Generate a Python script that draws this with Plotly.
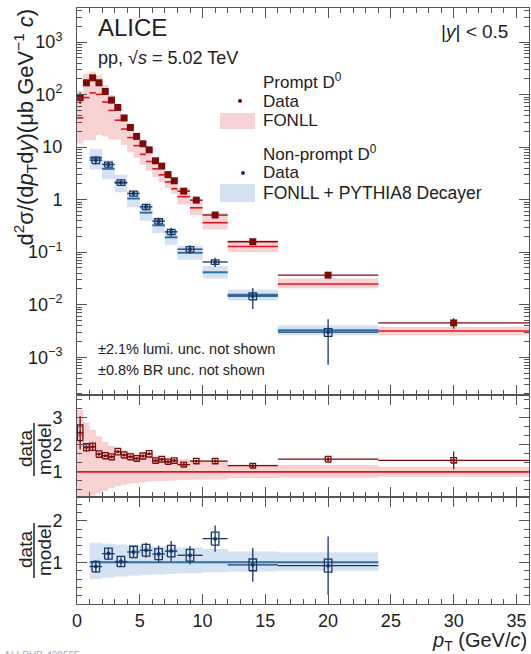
import plotly.graph_objects as go

# ---------------- data ----------------
# Prompt D0
pr_lo = [0, 0.5, 1, 1.5, 2, 2.5, 3, 3.5, 4, 4.5, 5, 5.5, 6, 6.5, 7, 7.5, 8, 9, 10, 12, 16, 24]
pr_hi = [0.5, 1, 1.5, 2, 2.5, 3, 3.5, 4, 4.5, 5, 5.5, 6, 6.5, 7, 7.5, 8, 9, 10, 12, 16, 24, 36]
pr_data = [88, 168, 209, 168, 115, 78.5, 57, 36, 23.7, 16, 11.6, 8.9, 5.5, 4.36, 3.0, 2.29,
           1.45, 0.98, 0.51, 0.158, 0.0365, 0.0045]
pr_stat_rel = [0.25, 0.08, 0.08, 0.03, 0.03, 0.03, 0.03, 0.03, 0.03, 0.03, 0.03, 0.03, 0.03,
               0.03, 0.03, 0.03, 0.03, 0.03, 0.04, 0.04, 0.05, 0.23]
pr_sys_rel = [0.12, 0.07, 0.07, 0.07, 0.07, 0.07, 0.07, 0.07, 0.07, 0.07, 0.07, 0.07, 0.07,
              0.07, 0.07, 0.07, 0.07, 0.07, 0.07, 0.07, 0.07, 0.07]
pr_fonll = [36, 88, 108, 101, 72, 50, 32.6, 22.1, 15.2, 10.7, 7.3, 5.33, 3.87, 2.97, 2.17,
            1.61, 1.14, 0.70, 0.364, 0.128, 0.0248, 0.00315]
pr_fonll_up = [119, 249, 276, 233, 153, 98.5, 61.3, 39.8, 26.4, 18.1, 12.0, 8.6, 6.1, 4.6,
               3.32, 2.43, 1.69, 1.01, 0.55, 0.17, 0.0316, 0.0038]
pr_fonll_dn = [11.8, 13.6, 13.6, 16.9, 16, 14, 14, 11, 8, 6.3, 4.6, 3.6, 2.7, 2.15, 1.65,
               1.3, 0.81, 0.51, 0.27, 0.10, 0.0205, 0.0026]
pr_ratio = [2.45, 1.91, 1.93, 1.66, 1.60, 1.56, 1.75, 1.63, 1.56, 1.50, 1.59, 1.67, 1.42,
            1.47, 1.38, 1.42, 1.27, 1.40, 1.40, 1.23, 1.47, 1.43]
pr_rband_up = [3.3, 2.83, 2.56, 2.31, 2.12, 1.97, 1.88, 1.80, 1.74, 1.69, 1.65, 1.61, 1.58,
               1.55, 1.53, 1.51, 1.48, 1.44, 1.40, 1.27, 1.26, 1.19]
pr_rband_dn = [0.05, 0.1, 0.12, 0.2, 0.3, 0.4, 0.47, 0.52, 0.56, 0.59, 0.62, 0.64, 0.65,
               0.66, 0.67, 0.68, 0.70, 0.71, 0.72, 0.77, 0.78, 0.82]

# Non-prompt D0
np_lo = [1, 2, 3, 4, 5, 6, 7, 8, 10, 12, 16]
np_hi = [2, 3, 4, 5, 6, 7, 8, 10, 12, 16, 24]
np_data = [5.65, 4.68, 2.13, 1.31, 0.73, 0.39, 0.244, 0.114, 0.065, 0.0145, 0.0030]
np_stat_rel = [0.17, 0.12, 0.10, 0.11, 0.14, 0.17, 0.19, 0.19, 0.20, 0.43, 0.76]
np_sys_rel = [0.14, 0.11, 0.12, 0.11, 0.11, 0.11, 0.11, 0.12, 0.10, 0.15, 0.17]
np_fonll = [6.28, 3.87, 2.09, 1.05, 0.566, 0.325, 0.192, 0.0974, 0.0414, 0.0154, 0.00326]
np_ratio = [0.90, 1.21, 1.02, 1.25, 1.29, 1.20, 1.27, 1.17, 1.57, 0.94, 0.92]
np_rband_up = [1.47, 1.45, 1.43, 1.41, 1.40, 1.39, 1.38, 1.36, 1.32, 1.26, 1.24]
np_rband_dn = [0.60, 0.63, 0.66, 0.68, 0.70, 0.71, 0.72, 0.74, 0.76, 0.78, 0.80]

x_ticks = [0, 5, 10, 15, 20, 25, 30, 35]
y_ticks = [1e-3, 1e-2, 1e-1, 1, 10, 1e2, 1e3]
y_ticktext = ["10<sup>−3</sup>", "10<sup>−2</sup>", "10<sup>−1</sup>", "1", "10",
              "10<sup>2</sup>", "10<sup>3</sup>"]
r1_ticks = [1, 2, 3]
r2_ticks = [1, 2]

# ---------------- style ----------------
FONT = "Liberation Sans, Arial, sans-serif"
C_PR_DATA = "#7a0c0c"
C_PR_LINE = "#e0141e"
C_PR_BAND = "#f8d2d2"
C_NP_DATA = "#1b3768"
C_NP_LINE = "#2f6fa8"
C_NP_BAND = "#d4e2f2"
AX = "#555555"

W, H = 531, 654
L, R, T, B = 77, 2, 8, 50
PW, PH = W - L - R, H - T - B


def X(px):
    return (px - L) / PW


def Y(py):
    return (H - B - py) / PH


def centers(lo, hi):
    return [(a + b) / 2 for a, b in zip(lo, hi)]


def halfw(lo, hi):
    return [(b - a) / 2 for a, b in zip(lo, hi)]


def band_poly(lo, hi, up, dn):
    xs, ys = [], []
    for a, b, u, d in zip(lo, hi, up, dn):
        xs += [a, b, b, a, a, None]
        ys += [d, d, u, u, d, None]
    return xs, ys


def seg_poly(lo, hi, vals):
    xs, ys = [], []
    for a, b, v in zip(lo, hi, vals):
        xs += [a, b, None]
        ys += [v, v, None]
    return xs, ys


def box_poly(xc, yc, hw, dy_up, dy_dn):
    xs, ys = [], []
    for x, y, u, d in zip(xc, yc, dy_up, dy_dn):
        xs += [x - hw, x + hw, x + hw, x - hw, x - hw, None]
        ys += [y - d, y - d, y + u, y + u, y - d, None]
    return xs, ys


fig = go.Figure()

pr_x = centers(pr_lo, pr_hi)
pr_w = halfw(pr_lo, pr_hi)
np_x = centers(np_lo, np_hi)
np_w = halfw(np_lo, np_hi)

# ---------------- top panel ----------------
bx, by = band_poly(pr_lo, pr_hi, pr_fonll_up, pr_fonll_dn)
fig.add_trace(go.Scatter(x=bx, y=by, fill="toself", fillcolor=C_PR_BAND, mode="lines",
                         line=dict(width=0), hoverinfo="skip", xaxis="x", yaxis="y"))
np_up_abs = [c * u for c, u in zip(np_fonll, np_rband_up)]
np_dn_abs = [c * d for c, d in zip(np_fonll, np_rband_dn)]
bx, by = band_poly(np_lo, np_hi, np_up_abs, np_dn_abs)
fig.add_trace(go.Scatter(x=bx, y=by, fill="toself", fillcolor=C_NP_BAND, mode="lines",
                         line=dict(width=0), hoverinfo="skip", xaxis="x", yaxis="y"))
sx, sy = seg_poly(pr_lo, pr_hi, pr_fonll)
fig.add_trace(go.Scatter(x=sx, y=sy, mode="lines", line=dict(color=C_PR_LINE, width=1.6),
                         xaxis="x", yaxis="y"))
sx, sy = seg_poly(np_lo, np_hi, np_fonll)
fig.add_trace(go.Scatter(x=sx, y=sy, mode="lines", line=dict(color=C_NP_LINE, width=2),
                         xaxis="x", yaxis="y"))

# non-prompt data (top)
np_sys_abs = [d * s for d, s in zip(np_data, np_sys_rel)]
bx, by = box_poly(np_x, np_data, 0.3, np_sys_abs, np_sys_abs)
fig.add_trace(go.Scatter(x=bx, y=by, mode="lines", line=dict(color=C_NP_DATA, width=1.3),
                         xaxis="x", yaxis="y"))
fig.add_trace(go.Scatter(
    x=np_x, y=np_data, mode="markers",
    marker=dict(symbol="circle", size=4, color=C_NP_DATA),
    error_x=dict(type="data", array=np_w, width=0, thickness=1.3, color=C_NP_DATA),
    error_y=dict(type="data", array=[d * s for d, s in zip(np_data, np_stat_rel)],
                 width=0, thickness=1.3, color=C_NP_DATA),
    xaxis="x", yaxis="y"))

# prompt data (top)
fig.add_trace(go.Scatter(
    x=pr_x, y=pr_data, mode="markers",
    marker=dict(symbol="square", size=7, color=C_PR_DATA),
    error_x=dict(type="data", array=pr_w, width=0, thickness=1.3, color=C_PR_DATA),
    error_y=dict(type="data", array=[d * s for d, s in zip(pr_data, pr_stat_rel)],
                 width=0, thickness=1.3, color=C_PR_DATA),
    xaxis="x", yaxis="y"))

# ---------------- middle panel (prompt ratio) ----------------
bx, by = band_poly(pr_lo, pr_hi, pr_rband_up, pr_rband_dn)
fig.add_trace(go.Scatter(x=bx, y=by, fill="toself", fillcolor=C_PR_BAND, mode="lines",
                         line=dict(width=0), hoverinfo="skip", xaxis="x2", yaxis="y2"))
fig.add_trace(go.Scatter(x=[pr_lo[0], pr_hi[-1]], y=[1, 1], mode="lines",
                         line=dict(color=C_PR_LINE, width=1.6), xaxis="x2", yaxis="y2"))
pr_rsys = [r * s for r, s in zip(pr_ratio, pr_sys_rel)]
bx, by = box_poly(pr_x, pr_ratio, 0.22, pr_rsys, pr_rsys)
fig.add_trace(go.Scatter(x=bx, y=by, mode="lines", line=dict(color=C_PR_DATA, width=1.3),
                         xaxis="x2", yaxis="y2"))
fig.add_trace(go.Scatter(
    x=pr_x, y=pr_ratio, mode="markers",
    marker=dict(symbol="circle", size=3, color=C_PR_DATA),
    error_x=dict(type="data", array=pr_w, width=0, thickness=1.3, color=C_PR_DATA),
    error_y=dict(type="data", array=[r * s for r, s in zip(pr_ratio, pr_stat_rel)],
                 width=0, thickness=1.3, color=C_PR_DATA),
    xaxis="x2", yaxis="y2"))

# ---------------- bottom panel (non-prompt ratio) ----------------
bx, by = band_poly(np_lo, np_hi, np_rband_up, np_rband_dn)
fig.add_trace(go.Scatter(x=bx, y=by, fill="toself", fillcolor=C_NP_BAND, mode="lines",
                         line=dict(width=0), hoverinfo="skip", xaxis="x3", yaxis="y3"))
fig.add_trace(go.Scatter(x=[np_lo[0], np_hi[-1]], y=[1, 1], mode="lines",
                         line=dict(color=C_NP_LINE, width=2), xaxis="x3", yaxis="y3"))
np_rsys = [r * s for r, s in zip(np_ratio, np_sys_rel)]
bx, by = box_poly(np_x, np_ratio, 0.3, np_rsys, np_rsys)
fig.add_trace(go.Scatter(x=bx, y=by, mode="lines", line=dict(color=C_NP_DATA, width=1.3),
                         xaxis="x3", yaxis="y3"))
fig.add_trace(go.Scatter(
    x=np_x, y=np_ratio, mode="markers",
    marker=dict(symbol="circle", size=4, color=C_NP_DATA),
    error_x=dict(type="data", array=np_w, width=0, thickness=1.3, color=C_NP_DATA),
    error_y=dict(type="data", array=[r * s for r, s in zip(np_ratio, np_stat_rel)],
                 width=0, thickness=1.3, color=C_NP_DATA),
    xaxis="x3", yaxis="y3"))

# ---------------- axes ----------------
def axstyle(**kw):
    d = dict(showline=True, linecolor=AX, linewidth=1, mirror="ticks", ticks="inside",
             ticklen=10, tickcolor=AX, tickwidth=1, showgrid=False, zeroline=False,
             automargin=False,
             tickfont=dict(family=FONT, size=18, color="#222"))
    d.update(kw)
    return d


xcommon = dict(range=[0, 36], tickmode="array", tickvals=x_ticks,
               ticktext=[str(v) for v in x_ticks],
               minor=dict(ticks="inside", ticklen=5, tickcolor=AX, dtick=1, tick0=0,
                          showgrid=False))
minor_log = [m * 10 ** e for e in range(-4, 4) for m in range(2, 10)]

fig.update_layout(
    width=W, height=H,
    margin=dict(l=L, r=R, t=T, b=B),
    paper_bgcolor="white", plot_bgcolor="white",
    showlegend=False,
    font=dict(family=FONT, color="#222"),
    xaxis=axstyle(anchor="y", domain=[0, 1], showticklabels=False, **xcommon),
    yaxis=axstyle(anchor="x", domain=[Y(395), 1], type="log", range=[-3.72, 3.65],
                  tickmode="array", tickvals=y_ticks, ticktext=y_ticktext,
                  ticklabelstandoff=10,
                  minor=dict(ticks="inside", ticklen=5, tickcolor=AX, tickmode="array",
                             tickvals=minor_log, showgrid=False)),
    xaxis2=axstyle(anchor="y2", domain=[0, 1], matches="x", showticklabels=False, **xcommon),
    yaxis2=axstyle(anchor="x2", domain=[Y(497), Y(395)], range=[0.07, 3.85],
                   tickmode="array", tickvals=r1_ticks, ticktext=[str(v) for v in r1_ticks],
                   ticklabelstandoff=10,
                   minor=dict(ticks="inside", ticklen=5, tickcolor=AX, dtick=1 / 3, tick0=0,
                              showgrid=False)),
    xaxis3=axstyle(anchor="y3", domain=[0, 1], matches="x", ticklabelstandoff=0, **xcommon),
    yaxis3=axstyle(anchor="x3", domain=[0, Y(497)], range=[0, 2.57],
                   tickmode="array", tickvals=r2_ticks, ticktext=[str(v) for v in r2_ticks],
                   ticklabelstandoff=10,
                   minor=dict(ticks="inside", ticklen=5, tickcolor=AX, dtick=0.2, tick0=0,
                              showgrid=False)),
)

# ---------------- texts ----------------
def ann(text, px, py, size, xanchor="left", yanchor="middle", angle=0, color="#222"):
    fig.add_annotation(text=text, x=X(px), y=Y(py), xref="paper", yref="paper",
                       showarrow=False, xanchor=xanchor, yanchor=yanchor, textangle=angle,
                       font=dict(family=FONT, size=size, color=color))


ann("ALICE", 96, 28, 24)
ann("pp, √<i>s</i> = 5.02 TeV", 96, 58, 18)
ann("|<i>y</i>| < 0.5", 510, 31, 19, xanchor="right")
ann("Prompt D<sup>0</sup>", 261, 81, 17)
ann("Data", 261, 101, 17)
ann("FONLL", 261, 121, 17)
ann("Non-prompt D<sup>0</sup>", 261, 153, 17)
ann("Data", 261, 173, 17)
ann("FONLL + PYTHIA8 Decayer", 261, 193, 17.5)
ann("±2.1% lumi. unc. not shown", 96, 349, 14.5)
ann("±0.8% BR unc. not shown", 96, 370, 14.5)
ann("d<sup>2</sup>σ/(d<i>p</i><sub>T</sub>d<i>y</i>)(μb GeV<sup>−1</sup> <i>c</i>)",
    25, 7, 22, xanchor="center", yanchor="top", angle=-90)
ann("data", 25, 449, 19, xanchor="center", angle=-90)
ann("model", 44, 449, 19, xanchor="center", angle=-90)
ann("data", 25, 550, 19, xanchor="center", angle=-90)
ann("model", 44, 550, 19, xanchor="center", angle=-90)
ann("<i>p</i><sub>T</sub> (GeV/<i>c</i>)", 529, 641, 20, xanchor="right")
ann("ALI-PUB-499565", 2, 648, 10, yanchor="top", color="#aaaaaa")

# fraction bars and legend symbols
shapes = [
    dict(type="line", xref="paper", yref="paper", x0=X(34), x1=X(34), y0=Y(423), y1=Y(476),
         line=dict(color="#222", width=1.5)),
    dict(type="line", xref="paper", yref="paper", x0=X(34), x1=X(34), y0=Y(523), y1=Y(578),
         line=dict(color="#222", width=1.5)),
    dict(type="rect", xref="paper", yref="paper", x0=X(220), x1=X(255), y0=Y(129), y1=Y(113),
         fillcolor=C_PR_BAND, line=dict(width=0)),
    dict(type="rect", xref="paper", yref="paper", x0=X(220), x1=X(255), y0=Y(202), y1=Y(184),
         fillcolor=C_NP_BAND, line=dict(width=0)),
    dict(type="circle", xref="paper", yref="paper", x0=X(238), x1=X(242), y0=Y(103), y1=Y(99),
         fillcolor=C_PR_DATA, line=dict(width=0)),
    dict(type="circle", xref="paper", yref="paper", x0=X(241), x1=X(245), y0=Y(175), y1=Y(171),
         fillcolor=C_NP_DATA, line=dict(width=0)),
]
fig.update_layout(shapes=shapes)

fig.write_html("out.html", config={"displayModeBar": False},
               post_script="document.body.style.margin='0';document.body.style.padding='0';")
